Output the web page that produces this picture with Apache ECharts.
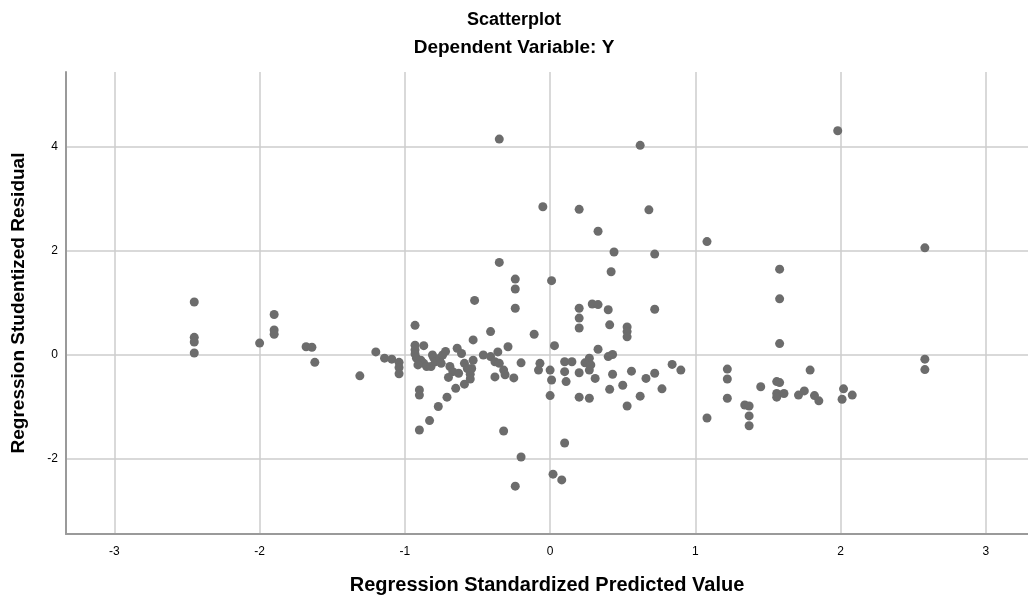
<!DOCTYPE html>
<html>
<head>
<meta charset="utf-8">
<script src="https://cdn.jsdelivr.net/npm/echarts@6/dist/echarts.min.js"></script>
<style>html,body{margin:0;padding:0;background:#fff}#c{width:1028px;height:600px}</style>
</head>
<body>
<div id="c"></div>
<script>
const titleText = "Scatterplot";
const subtitleText = "Dependent Variable: Y";
const xAxisName = "Regression Standardized Predicted Value";
const yAxisName = "Regression Studentized Residual";

// predicted (x) values
const predicted = [
-2.45,-2.45,-2.45,-2.45,-2.0,-1.90,-1.90,-1.90,-1.68,-1.64,-1.62,-1.31,
-1.20,-1.14,-1.09,-1.04,-1.04,-1.04,-0.93,-0.93,-0.93,-0.93,-0.87,
-0.92,-0.89,-0.87,-0.91,-0.85,-0.81,-0.80,-0.82,-0.79,-0.76,-0.74,-0.72,-0.75,
-0.64,-0.61,-0.59,-0.53,-0.54,-0.57,-0.69,-0.67,-0.63,-0.53,-0.41,
-0.46,-0.41,-0.36,-0.38,-0.35,-0.32,-0.31,-0.38,-0.25,-0.29,-0.20,-0.70,
-0.90,-0.90,-0.71,-0.77,-0.83,-0.90,-0.65,-0.59,-0.55,-0.55,
-0.32,-0.20,-0.24,-0.52,-0.35,-0.35,-0.24,-0.24,-0.24,
-0.05,0.01,-0.11,0.03,-0.07,-0.08,0.0,0.01,0.0,0.10,0.02,0.08,
0.10,0.15,0.10,0.11,0.24,0.27,0.28,0.27,0.20,0.31,0.20,0.27,
0.20,0.33,0.44,0.42,0.20,0.29,0.33,0.40,0.20,0.20,0.41,0.53,0.53,0.53,
0.33,0.40,0.43,0.43,0.56,0.50,0.66,0.72,0.77,0.84,0.90,0.41,0.62,0.53,
0.62,0.68,0.72,0.72,1.08,1.22,1.22,1.22,1.08,1.45,1.34,1.37,1.37,1.37,
1.58,1.58,1.58,1.56,1.58,1.56,1.56,1.61,1.71,1.75,1.79,1.82,1.85,
1.98,2.02,2.08,2.01,2.58,2.58,2.58
];
// residual (y) values
const residual = [
1.02,0.34,0.25,0.04,0.23,0.78,0.48,0.40,0.16,0.15,-0.14,-0.40,
0.06,-0.06,-0.08,-0.14,-0.24,-0.36,0.57,0.19,0.10,0.02,0.18,
-0.06,-0.10,-0.16,-0.19,-0.22,0.0,-0.06,-0.22,-0.13,-0.06,0.0,0.07,-0.16,
0.13,0.03,-0.16,-0.10,-0.26,-0.26,-0.22,-0.32,-0.35,0.29,0.45,
0.0,-0.03,0.06,-0.13,-0.16,-0.29,-0.38,-0.42,-0.44,0.16,-0.15,-0.43,
-0.67,-0.77,-0.81,-0.99,-1.26,-1.44,-0.64,-0.56,-0.46,-0.37,
-1.46,-1.96,-2.52,1.05,4.15,1.78,1.46,1.27,0.90,
2.85,1.43,0.40,0.18,-0.16,-0.29,-0.29,-0.48,-0.78,-1.69,-2.29,-2.40,
-0.13,-0.13,-0.32,-0.51,-0.15,-0.06,-0.19,-0.29,-0.34,-0.45,-0.81,-0.83,
2.80,2.38,1.98,1.60,0.90,0.98,0.97,0.87,0.71,0.52,0.58,0.54,0.45,0.35,
0.11,-0.03,0.01,-0.37,-0.31,-0.58,-0.45,-0.35,-0.65,-0.18,-0.29,-0.66,-0.79,-0.98,
4.03,2.79,1.94,0.88,2.18,-0.27,-0.46,-0.83,-1.21,-0.61,-0.96,-0.98,-1.17,-1.36,
1.65,1.08,0.22,-0.51,-0.53,-0.74,-0.81,-0.74,-0.77,-0.69,-0.29,-0.78,-0.88,
4.31,-0.65,-0.77,-0.85,2.06,-0.08,-0.28
];

const points = predicted.map((x, i) => [x, residual[i]]);
const FONT = "'Liberation Sans', Arial, sans-serif";

const chart = echarts.init(document.getElementById('c'), null, {renderer: 'canvas'});
chart.setOption({
  animation: false,
  backgroundColor: '#ffffff',
  title: [
    {text: titleText, left: 'center', top: 6,
     textStyle: {fontFamily: FONT, fontSize: 18, fontWeight: 'bold', color: '#000'}},
    {text: subtitleText, left: 'center', top: 33,
     textStyle: {fontFamily: FONT, fontSize: 19, fontWeight: 'bold', color: '#000'}}
  ],
  grid: {left: 66, top: 72, right: 0, bottom: 66, outerBoundsMode: 'none', containLabel: false},
  xAxis: {
    type: 'value', min: -3.333, max: 3.29, splitNumber: 6,
    name: xAxisName, nameLocation: 'middle', nameGap: 41,
    nameTextStyle: {fontFamily: FONT, fontSize: 20, fontWeight: 'bold', color: '#000'},
    axisLine: {show: true, onZero: false, lineStyle: {color: '#9a9a9a', width: 2}},
    axisTick: {show: false},
    axisLabel: {showMinLabel: false, showMaxLabel: false, margin: 12,
      fontFamily: FONT, fontSize: 12, color: '#000'},
    splitLine: {show: true, showMinLine: false, showMaxLine: false,
      lineStyle: {color: '#cdcdcd', width: 1.5}}
  },
  yAxis: {
    type: 'value', min: -3.44, max: 5.44, splitNumber: 5,
    name: yAxisName, nameLocation: 'middle', nameGap: 38, nameRotate: 90,
    nameTextStyle: {fontFamily: FONT, fontSize: 19, fontWeight: 'bold', color: '#000'},
    axisLine: {show: true, onZero: false, lineStyle: {color: '#9a9a9a', width: 2}},
    axisTick: {show: false},
    axisLabel: {showMinLabel: false, showMaxLabel: false, margin: 8,
      fontFamily: FONT, fontSize: 12, color: '#000'},
    splitLine: {show: true, showMinLine: false, showMaxLine: false,
      lineStyle: {color: '#cdcdcd', width: 1.5}}
  },
  series: [{
    type: 'scatter', data: points, symbol: 'circle', symbolSize: 9,
    itemStyle: {color: '#6c6c6c', opacity: 1}
  }]
});
</script>
</body>
</html>
